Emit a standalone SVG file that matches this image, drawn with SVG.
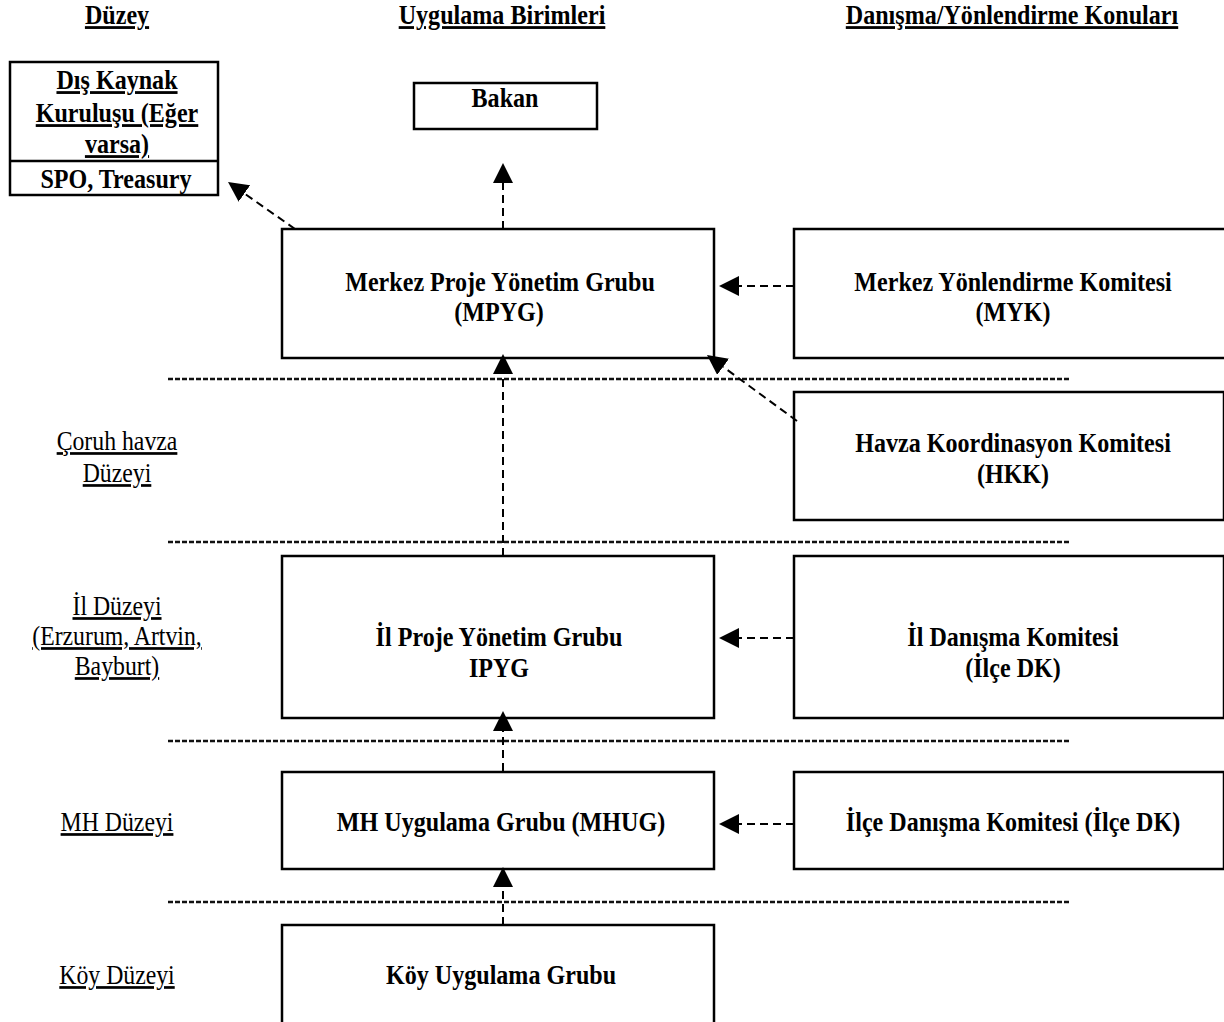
<svg xmlns="http://www.w3.org/2000/svg" width="1224" height="1022" viewBox="0 0 1224 1022">
<defs>
<style>
.box{fill:#fff;stroke:#000;stroke-width:2.5}
.t{font-family:"Liberation Serif","Times New Roman",serif;font-size:28px;font-weight:bold;text-anchor:middle;fill:#000}
.u{text-decoration:underline}
.l{font-family:"Liberation Serif","Times New Roman",serif;font-size:27px;text-anchor:middle;fill:#000;text-decoration:underline}
.sep{stroke:#111;stroke-width:2.5;stroke-dasharray:5 2;fill:none}
.con{stroke:#000;stroke-width:2;stroke-dasharray:8 5;fill:none;marker-end:url(#ah)}
</style>
<marker id="ah" markerUnits="userSpaceOnUse" viewBox="0 0 20 20" markerWidth="20" markerHeight="20" refX="0" refY="10" orient="auto">
<path d="M0,0 L20,10 L0,20 z" fill="#000"/>
</marker>
</defs>
<rect width="1224" height="1022" fill="#fff"/>

<g id="headers">
<text class="t u" transform="matrix(.86 0 0 1 117 24)">Düzey</text>
<text class="t u" transform="matrix(.86 0 0 1 502 24)">Uygulama Birimleri</text>
<text class="t u" transform="matrix(.86 0 0 1 1012 24)">Danışma/Yönlendirme Konuları</text>
</g>

<g id="levels">
<text class="l" transform="matrix(.88 0 0 1 117 450)">Çoruh havza</text>
<text class="l" transform="matrix(.88 0 0 1 117 482)">Düzeyi</text>
<text class="l" transform="matrix(.88 0 0 1 117 615)">İl Düzeyi</text>
<text class="l" transform="matrix(.88 0 0 1 117 645)">(Erzurum, Artvin,</text>
<text class="l" transform="matrix(.88 0 0 1 117 675)">Bayburt)</text>
<text class="l" transform="matrix(.88 0 0 1 117 831)">MH Düzeyi</text>
<text class="l" transform="matrix(.88 0 0 1 117 984)">Köy Düzeyi</text>
</g>

<g id="separators">
<line class="sep" x1="168" y1="379" x2="1071" y2="379"/>
<line class="sep" x1="168" y1="542" x2="1071" y2="542"/>
<line class="sep" x1="168" y1="741" x2="1071" y2="741"/>
<line class="sep" x1="168" y1="902" x2="1071" y2="902"/>
</g>

<g id="dis-kaynak">
<rect class="box" x="10" y="62" width="208" height="133"/>
<line x1="10" y1="161" x2="218" y2="161" stroke="#000" stroke-width="2.5"/>
<text class="t u" transform="matrix(.86 0 0 1 117 89)">Dış Kaynak</text>
<text class="t u" transform="matrix(.86 0 0 1 117 122)">Kuruluşu (Eğer</text>
<text class="t u" transform="matrix(.86 0 0 1 117 153)">varsa)</text>
<text class="t" transform="matrix(.86 0 0 1 116 188)">SPO, Treasury</text>
</g>

<g id="bakan">
<rect class="box" x="414" y="83" width="183" height="46"/>
<text class="t" transform="matrix(.86 0 0 1 505 107)">Bakan</text>
</g>

<g id="mpyg">
<rect class="box" x="282" y="229" width="432" height="129"/>
<text class="t" transform="matrix(.86 0 0 1 500 291)">Merkez Proje Yönetim Grubu</text>
<text class="t" transform="matrix(.86 0 0 1 499 321)">(MPYG)</text>
</g>

<g id="myk">
<rect class="box" x="794" y="229" width="432" height="129"/>
<text class="t" transform="matrix(.86 0 0 1 1013 291)">Merkez Yönlendirme Komitesi</text>
<text class="t" transform="matrix(.86 0 0 1 1013 321)">(MYK)</text>
</g>

<g id="hkk">
<rect class="box" x="794" y="392" width="430" height="128"/>
<text class="t" transform="matrix(.86 0 0 1 1013 452)">Havza Koordinasyon Komitesi</text>
<text class="t" transform="matrix(.86 0 0 1 1013 483)">(HKK)</text>
</g>

<g id="ipyg">
<rect class="box" x="282" y="556" width="432" height="162"/>
<text class="t" transform="matrix(.86 0 0 1 499 646)">İl Proje Yönetim Grubu</text>
<text class="t" transform="matrix(.86 0 0 1 499 677)">IPYG</text>
</g>

<g id="il-dk">
<rect class="box" x="794" y="556" width="430" height="162"/>
<text class="t" transform="matrix(.86 0 0 1 1013 646)">İl Danışma Komitesi</text>
<text class="t" transform="matrix(.86 0 0 1 1013 677)">(İlçe DK)</text>
</g>

<g id="mhug">
<rect class="box" x="282" y="772" width="432" height="97"/>
<text class="t" transform="matrix(.86 0 0 1 501 831)">MH Uygulama Grubu (MHUG)</text>
</g>

<g id="ilce-dk">
<rect class="box" x="794" y="772" width="430" height="97"/>
<text class="t" transform="matrix(.86 0 0 1 1013 831)">İlçe Danışma Komitesi (İlçe DK)</text>
</g>

<g id="koy">
<rect class="box" x="282" y="925" width="432" height="110"/>
<text class="t" transform="matrix(.86 0 0 1 501 984)">Köy Uygulama Grubu</text>
</g>

<g id="connectors">
<line class="con" x1="503" y1="229" x2="503" y2="183"/>
<line class="con" x1="295" y1="229" x2="244.4" y2="193.5"/>
<line class="con" x1="794" y1="286" x2="739" y2="286"/>
<line class="con" x1="797" y1="421" x2="723.1" y2="366.8"/>
<line class="con" x1="503" y1="556" x2="503" y2="374"/>
<line class="con" x1="794" y1="638" x2="739" y2="638"/>
<line class="con" x1="503" y1="771" x2="503" y2="731"/>
<line class="con" x1="794" y1="824" x2="739" y2="824"/>
<line class="con" x1="503" y1="925" x2="503" y2="887"/>
</g>
</svg>
